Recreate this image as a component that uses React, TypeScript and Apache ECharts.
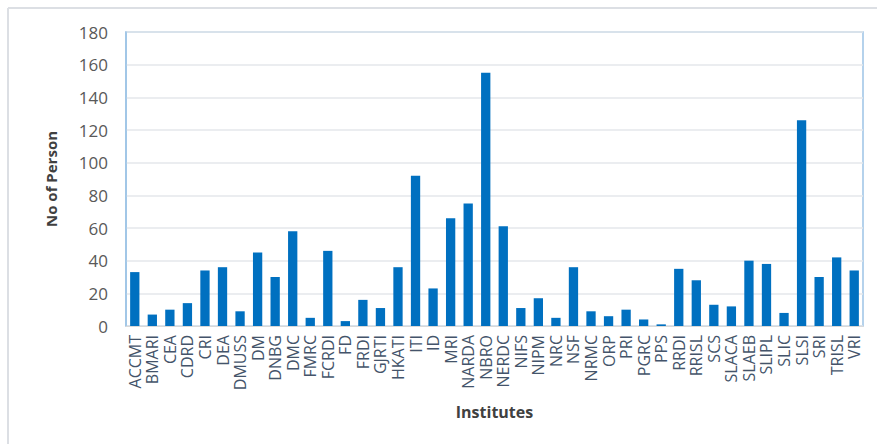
import React, { useEffect, useRef } from "react";
import * as echarts from "echarts";

const institutes = [
  "ACCMT", "BMARI", "CEA", "CDRD", "CRI", "DEA", "DMUSS", "DM", "DNBG", "DMC",
  "FMRC", "FCRDI", "FD", "FRDI", "GJRTI", "HKATI", "ITI", "ID", "MRI", "NARDA",
  "NBRO", "NERDC", "NIFS", "NIPM", "NRC", "NSF", "NRMC", "ORP", "PRI", "PGRC",
  "PPS", "RRDI", "RRISL", "SCS", "SLACA", "SLAEB", "SLIPL", "SLIC", "SLSI", "SRI",
  "TRISL", "VRI",
];

const persons = [
  33, 7, 10, 14, 34, 36, 9, 45, 30, 58,
  5, 46, 3, 16, 11, 36, 92, 23, 66, 75,
  155, 61, 11, 17, 5, 36, 9, 6, 10, 4,
  1, 35, 28, 13, 12, 40, 38, 8, 126, 30,
  42, 34,
];

const yTicks = { min: 0, max: 180, interval: 20 };

export default function App() {
  const ref = useRef<HTMLDivElement>(null);

  useEffect(() => {
    if (!ref.current) return;
    const chart = echarts.init(ref.current, undefined, { renderer: "svg" });
    chart.setOption({
      animation: false,
      backgroundColor: "#ffffff",
      graphic: [
        {
          type: "line",
          shape: { x1: 8, y1: 8, x2: 877, y2: 8 },
          style: { stroke: "#DCDFE4", lineWidth: 2 },
          silent: true,
        },
        {
          type: "line",
          shape: { x1: 8, y1: 8, x2: 8, y2: 444 },
          style: { stroke: "#DCDFE4", lineWidth: 2 },
          silent: true,
        },
      ],
      grid: {
        left: 126,
        top: 32,
        right: 14,
        bottom: 118,
        show: true,
        borderColor: "#9DC3E6",
        borderWidth: 1.5,
        containLabel: false,
      },
      xAxis: {
        type: "category",
        data: institutes,
        name: "Institutes",
        nameLocation: "middle",
        nameGap: 78,
        nameTextStyle: {
          fontFamily: "Open Sans",
          fontWeight: "bold",
          fontSize: 16,
          color: "#404040",
        },
        axisLine: { show: true, lineStyle: { color: "#D9D9D9", width: 1 } },
        axisTick: { show: false },
        axisLabel: {
          interval: 0,
          rotate: 90,
          margin: 9,
          fontFamily: "Open Sans",
          fontSize: 16,
          color: "#44546A",
        },
      },
      yAxis: {
        type: "value",
        min: yTicks.min,
        max: yTicks.max,
        interval: yTicks.interval,
        name: "No of Person",
        nameLocation: "middle",
        nameGap: 68,
        nameRotate: 90,
        nameTextStyle: {
          fontFamily: "Open Sans",
          fontWeight: "bold",
          fontSize: 15,
          color: "#404040",
        },
        axisLine: { show: true, lineStyle: { color: "#9DC3E6", width: 1.5 } },
        axisTick: { show: false },
        axisLabel: {
          margin: 18,
          fontFamily: "Open Sans",
          fontSize: 17,
          color: "#595959",
        },
        splitLine: { show: true, lineStyle: { color: "#E4E7EB", width: 1.5 } },
      },
      series: [
        {
          type: "bar",
          data: persons,
          barCategoryGap: "47%",
          itemStyle: { color: "#0070C0" },
        },
      ],
    });
    return () => chart.dispose();
  }, []);

  return (
    <div
      ref={ref}
      style={{ position: "fixed", left: 0, top: 0, width: 877, height: 444 }}
    />
  );
}
